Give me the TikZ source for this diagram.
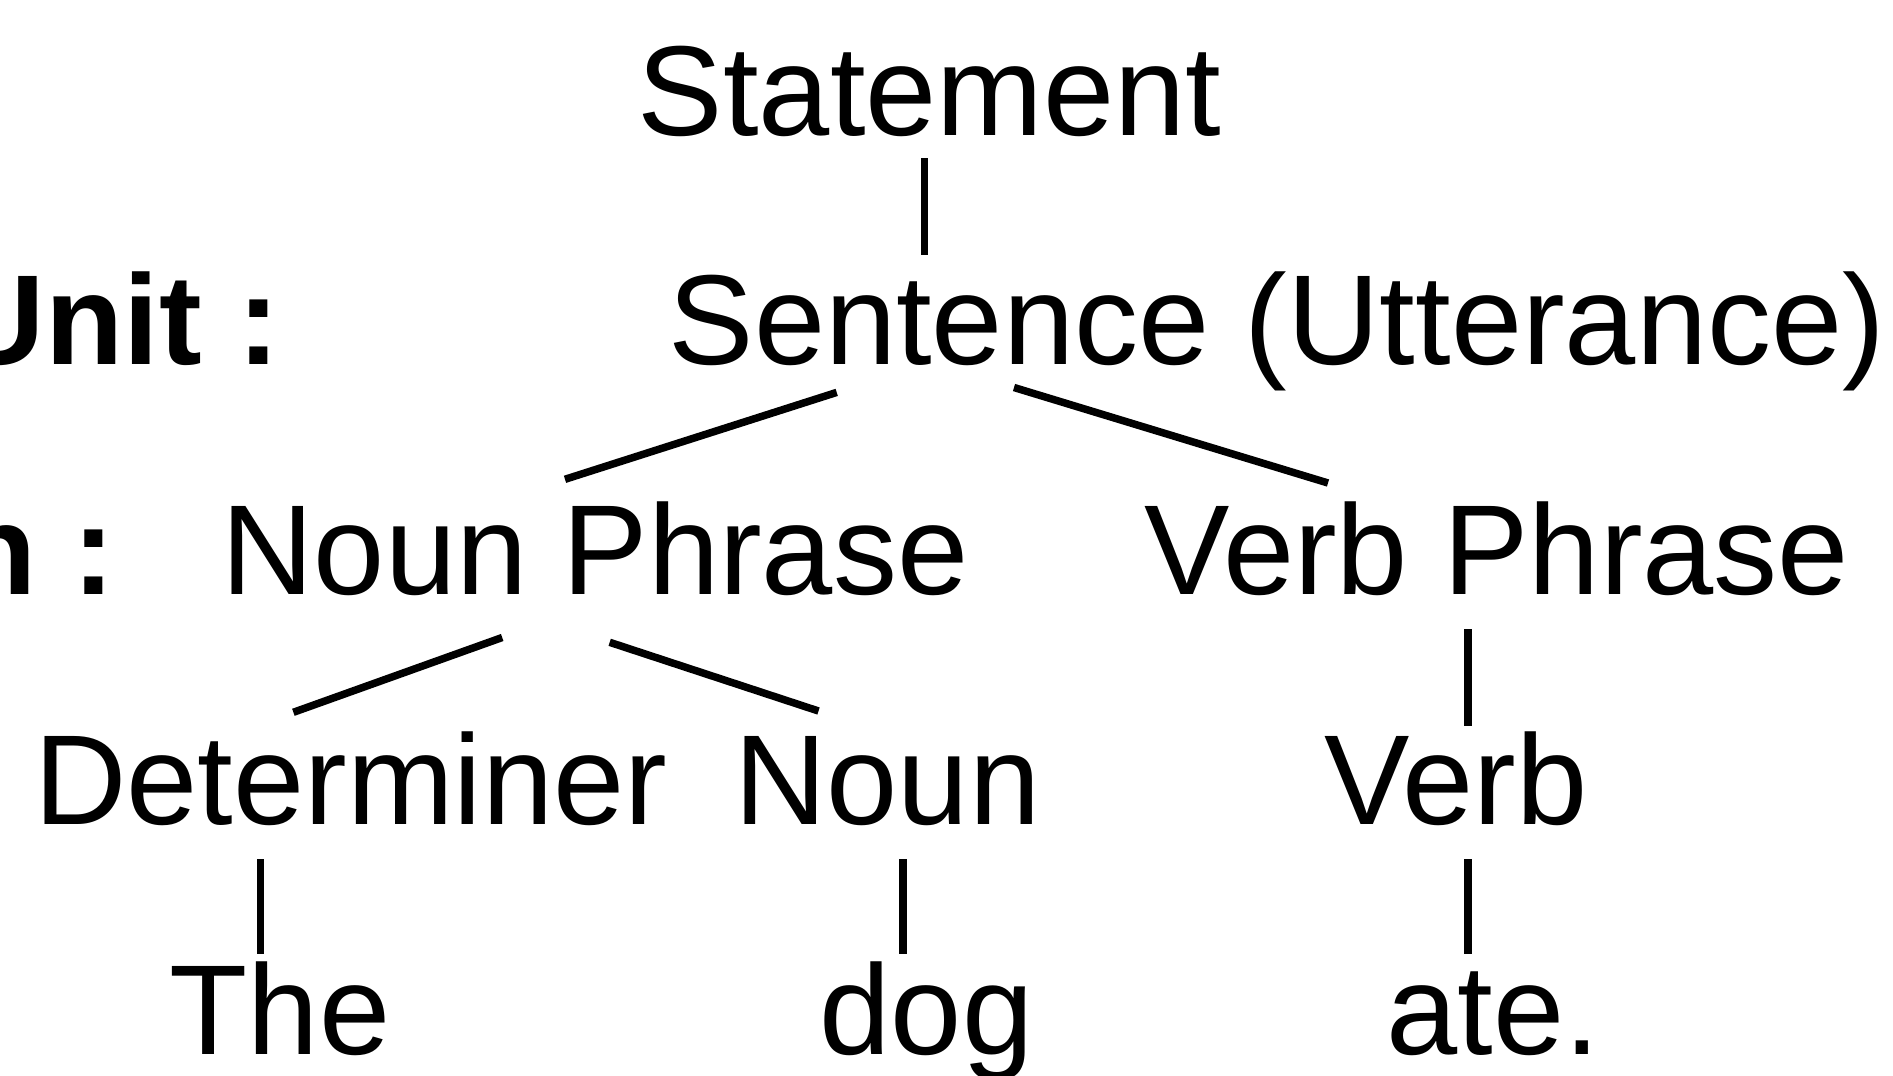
\documentclass[tikz,border=0pt]{standalone}
\usepackage{fontspec}
\setmainfont{Liberation Sans}
\begin{document}
\begin{tikzpicture}[x=1pt,y=-1pt,
  word/.style={inner sep=0pt,outer sep=0pt,anchor=base,font=\fontsize{128}{150}\selectfont},
  tag/.style={inner sep=0pt,outer sep=0pt,anchor=base east,font=\fontsize{128}{150}\selectfont\bfseries},
  branch/.style={line width=7.5pt,line cap=butt}]
\useasboundingbox[fill=white] (0,0) rectangle (1893,1076);

% level labels on the left
\node[tag] (unitlbl) at (280,364.6) {Unit :};
\node[tag] (funclbl) at (115,594) {n :};

% tree nodes
\node[word] (stmt) at (929.6,135) {Statement};
\node[word] (sent) at (1277,364.6) {Sentence (Utterance)};
\node[word] (np)   at (595,594) {Noun Phrase};
\node[word] (vp)   at (1497,594) {Verb Phrase};
\node[word] (det)  at (350.7,824.6) {Determiner};
\node[word] (noun) at (887.4,824.6) {Noun};
\node[word] (verb) at (1456,824.6) {Verb};
\node[word] (the)  at (280,1054) {The};
\node[word] (dog)  at (926.6,1054) {dog};
\node[word] (ate)  at (1493.5,1054) {ate.};

% branch end points
\coordinate (stmt-b) at (924.5,158);
\coordinate (sent-t) at (924.5,254.5);
\coordinate (sent-bl) at (836.7,392.4);
\coordinate (np-t) at (565,479.3);
\coordinate (sent-br) at (1014,387.5);
\coordinate (vp-t) at (1328,483);
\coordinate (np-bl) at (502.2,637.5);
\coordinate (det-t) at (293.4,712.3);
\coordinate (np-br) at (609.7,642.3);
\coordinate (noun-t) at (818.5,711);
\coordinate (vp-b) at (1468,629);
\coordinate (verb-t) at (1468,725.6);
\coordinate (det-b) at (260.5,859);
\coordinate (the-t) at (260.5,954);
\coordinate (noun-b) at (903,859);
\coordinate (dog-t) at (903,954);
\coordinate (verb-b) at (1468,859);
\coordinate (ate-t) at (1468,954);

% branches
\draw[branch] (stmt-b) -- (sent-t);
\draw[branch] (sent-bl) -- (np-t);
\draw[branch] (sent-br) -- (vp-t);
\draw[branch] (np-bl) -- (det-t);
\draw[branch] (np-br) -- (noun-t);
\draw[branch] (vp-b) -- (verb-t);
\draw[branch] (det-b) -- (the-t);
\draw[branch] (noun-b) -- (dog-t);
\draw[branch] (verb-b) -- (ate-t);
\end{tikzpicture}
\end{document}
